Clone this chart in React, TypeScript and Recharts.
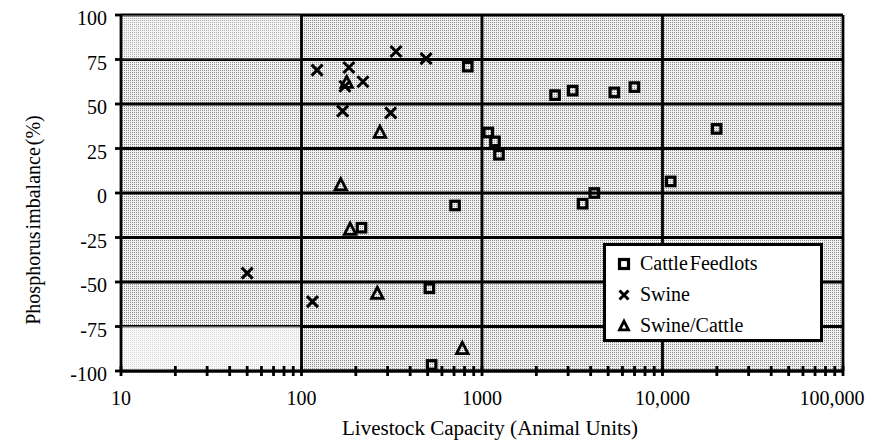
import {
  ScatterChart,
  Scatter,
  XAxis,
  YAxis,
  CartesianGrid,
  ReferenceLine,
  ReferenceArea,
  Legend,
} from "recharts";

// Cattle feedlots
const CATTLE_X = [834, 709, 215, 511, 526, 1083, 1180, 1242, 2540, 3180, 5410, 6990, 19950, 11100, 4190, 3610];
const CATTLE_Y = [71, -7, -19.5, -53.5, -96.6, 34, 29, 21.5, 55, 57.5, 56.5, 59.5, 36, 6.5, 0, -6];
// Swine
const SWINE_X = [122, 183, 219, 174, 334, 490, 169, 312, 50, 115];
const SWINE_Y = [69, 70.5, 62.5, 60, 79.5, 75.5, 46, 45, -45, -61];
// Swine/Cattle
const MIXED_X = [178, 272, 165, 186, 263, 778];
const MIXED_Y = [62, 34, 4.5, -20.5, -56.5, -87.5];

const DECADES = [10, 100, 1000, 10000, 100000];
const DECADE_LABELS = ["10", "100", "1000", "10,000", "100,000"];
const MINOR = [2, 3, 4, 5, 6, 7, 8, 9];
const Y_TICKS = [-100, -75, -50, -25, 0, 25, 50, 75, 100];

const SERIES_NAMES = ["Cattle Feedlots", "Swine", "Swine/Cattle"];

const FONT = "Liberation Serif, Times New Roman, serif";
const LINE_W = 2.8;

const X_TICKS = DECADES.flatMap((d, i) =>
  i < DECADES.length - 1 ? [d, ...MINOR.map((m) => d * m)] : [d]
);

const toPoints = (xs: number[], ys: number[]) => xs.map((x, i) => ({ x, y: ys[i] }));

const SquareMark = ({ cx, cy, s = 8.5 }: any) => (
  <rect x={cx - s / 2} y={cy - s / 2} width={s} height={s} fill="none" stroke="#000" strokeWidth={3.2} />
);

const CrossMark = ({ cx, cy, s = 11 }: any) => (
  <path
    d={`M${cx - s / 2},${cy - s / 2}L${cx + s / 2},${cy + s / 2}M${cx - s / 2},${cy + s / 2}L${cx + s / 2},${cy - s / 2}`}
    stroke="#000"
    strokeWidth={3}
    fill="none"
  />
);

const TriMark = ({ cx, cy, s = 11.5 }: any) => (
  <path
    d={`M${cx},${cy - s * 0.55}L${cx + s / 2},${cy + s * 0.42}L${cx - s / 2},${cy + s * 0.42}Z`}
    stroke="#000"
    strokeWidth={2.8}
    fill="none"
  />
);

const XTick = ({ x, y, payload }: any) => {
  const idx = DECADES.indexOf(payload.value);
  const last = idx === DECADES.length - 1;
  return (
    <g>
      <line x1={x} x2={x} y1={y - 5} y2={y + 5} stroke="#000" strokeWidth={LINE_W} />
      {idx >= 0 && (
        <text x={x} dx={last ? -11 : 0} y={y + 34} textAnchor="middle" fontSize={20} fontFamily={FONT} fill="#000">
          {DECADE_LABELS[idx]}
        </text>
      )}
    </g>
  );
};

const renderLegend = () => {
  const marks = [SquareMark, CrossMark, TriMark];
  return (
    <div
      style={{
        width: 220,
        height: 99,
        boxSizing: "border-box",
        border: "3px solid #000",
        background: "#fff",
        fontFamily: FONT,
        fontSize: 20,
        paddingTop: 2,
      }}
    >
      {SERIES_NAMES.map((name, i) => {
        const M = marks[i];
        return (
          <div key={name} style={{ display: "flex", alignItems: "center", height: 31 }}>
            <svg width={34} height={20} style={{ flex: "none" }}>
              <M cx={18} cy={10} s={9} />
            </svg>
            <span style={{ wordSpacing: -3 }}>{name}</span>
          </div>
        );
      })}
    </div>
  );
};

export default function App() {
  return (
    <div style={{ position: "absolute", left: 0, top: 0, background: "#fff", fontFamily: FONT }}>
      <ScatterChart width={878} height={448} margin={{ top: 15, right: 35, bottom: 0, left: 0 }}>
        <defs>
          <pattern id="stipple" width={2} height={2} patternUnits="userSpaceOnUse">
            <rect width={2} height={2} fill="#f0f0f0" />
            <rect width={1} height={1} fill="#8c8c8c" />
          </pattern>
        </defs>
        <CartesianGrid vertical={false} stroke="#000" strokeWidth={LINE_W} fill="url(#stipple)" fillOpacity={1} />
        <ReferenceArea x1={10} x2={100} y1={-100} y2={-75} fill="#fff" fillOpacity={0.65} stroke="none" />
        <ReferenceArea x1={10} x2={100} y1={75} y2={100} fill="#fff" fillOpacity={0.3} stroke="none" />
        <XAxis
          type="number"
          dataKey="x"
          scale="log"
          domain={[10, 100000]}
          ticks={X_TICKS}
          interval={0}
          tickSize={0}
          tickMargin={0}
          tick={<XTick />}
          axisLine={{ stroke: "#000", strokeWidth: LINE_W }}
          allowDataOverflow
          height={77}
          label={{
            value: "Livestock Capacity (Animal Units)",
            content: () => (
              <text
                x={490}
                y={435}
                textAnchor="middle"
                fontSize={20}
                fontFamily={FONT}
                fill="#000"
                textLength={296}
                lengthAdjust="spacingAndGlyphs"
              >
                Livestock Capacity (Animal Units)
              </text>
            ),
          }}
        />
        <YAxis
          type="number"
          dataKey="y"
          domain={[-100, 100]}
          ticks={Y_TICKS}
          interval={0}
          width={121}
          tickSize={6}
          tickMargin={8}
          tick={{ fontSize: 20, fontFamily: FONT, fill: "#000", dy: 3 }}
          tickLine={{ stroke: "#000", strokeWidth: LINE_W }}
          axisLine={{ stroke: "#000", strokeWidth: LINE_W }}
          label={{
            value: "Phosphorus imbalance (%)",
            content: () => (
              <text
                transform="translate(40,220) rotate(-90)"
                textAnchor="middle"
                fontSize={20}
                fontFamily={FONT}
                fill="#000"
                wordSpacing={-3}
              >
                Phosphorus imbalance (%)
              </text>
            ),
          }}
        />
        {DECADES.slice(1).map((d) => (
          <ReferenceLine key={d} x={d} stroke="#000" strokeWidth={LINE_W} />
        ))}
        <Scatter name={SERIES_NAMES[0]} data={toPoints(CATTLE_X, CATTLE_Y)} shape={<SquareMark />} isAnimationActive={false} />
        <Scatter name={SERIES_NAMES[1]} data={toPoints(SWINE_X, SWINE_Y)} shape={<CrossMark />} isAnimationActive={false} />
        <Scatter name={SERIES_NAMES[2]} data={toPoints(MIXED_X, MIXED_Y)} shape={<TriMark />} isAnimationActive={false} />
        <Legend
          layout="vertical"
          align="center"
          verticalAlign="middle"
          content={renderLegend}
          wrapperStyle={{ position: "absolute", left: 603, top: 243, width: 220, height: 99 }}
        />
      </ScatterChart>
    </div>
  );
}
